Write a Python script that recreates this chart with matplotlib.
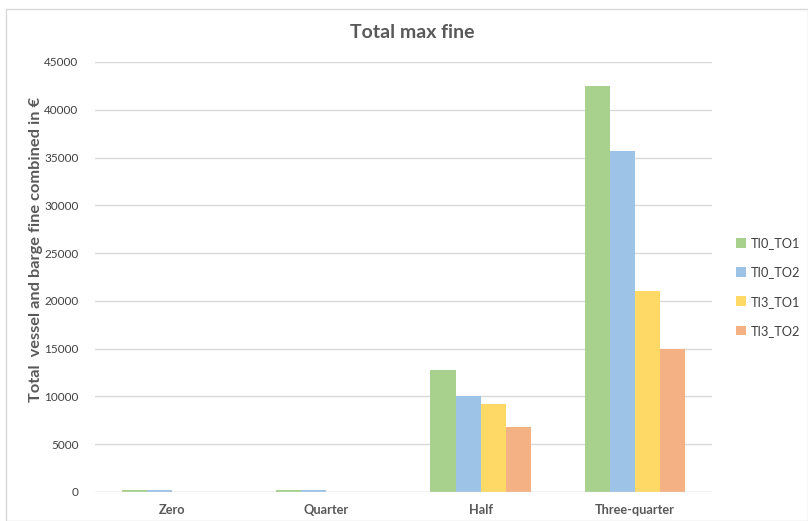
import matplotlib.pyplot as plt
import numpy as np
from matplotlib.patches import Rectangle

categories = ["Zero", "Quarter", "Half", "Three-quarter"]
series_names = ["TI0_TO1", "TI0_TO2", "TI3_TO1", "TI3_TO2"]
ti0_to1 = [200, 200, 12800, 42500]
ti0_to2 = [200, 200, 10050, 35700]
ti3_to1 = [0, 0, 9200, 21000]
ti3_to2 = [0, 0, 6850, 15000]
y_ticks = list(range(0, 45001, 5000))

colors = ["#A9D18E", "#9DC3E6", "#FFD966", "#F4B183"]
text_color = "#595959"

plt.rcParams['font.family'] = ['Lato', 'DejaVu Sans']

fig = plt.figure(figsize=(8.08, 5.21), dpi=100)
ax = fig.add_axes([95 / 808, 1 - 492 / 521, (712 - 95) / 808, (492 - 62) / 521])

x = np.arange(len(categories))
bw = 0.1625
series = [ti0_to1, ti0_to2, ti3_to1, ti3_to2]
for i, (name, vals) in enumerate(zip(series_names, series)):
    ax.bar(x + (i - 1.5) * bw, vals, width=bw, color=colors[i], label=name, zorder=3)

ax.set_xlim(-0.5, len(categories) - 0.5)
ax.set_ylim(0, 45000)
ax.set_yticks(y_ticks)
ax.set_yticklabels([str(v) for v in y_ticks], fontsize=8.5, color="#404040")
ax.set_xticks(x)
ax.set_xticklabels(categories, fontsize=9.2, fontweight="bold", color=text_color)
ax.tick_params(axis='both', length=0)
ax.tick_params(axis='y', pad=12)
ax.tick_params(axis='x', pad=9)
ax.grid(axis='y', color="#D9D9D9", linewidth=1, zorder=0)
for s in ax.spines.values():
    s.set_visible(False)
ax.axhline(0, color="#D9D9D9", linewidth=1, zorder=4)

fig.text(36 / 808, 1 - 250 / 521, "Total  vessel and barge fine combined in €",
         rotation=90, ha="center", va="center", fontsize=11.8,
         fontweight="bold", color=text_color)

fig.text(412 / 808, 1 - 33 / 521, "Total max fine", ha="center", va="center",
         fontsize=14, fontweight="bold", color=text_color)

leg = fig.legend(loc="center left", bbox_to_anchor=(736 / 808, 1 - 287 / 521),
                 frameon=False, fontsize=9.2, handlelength=0.8, handleheight=0.8,
                 labelspacing=1.35, handletextpad=0.35, borderpad=0, borderaxespad=0)
for t in leg.get_texts():
    t.set_color("#404040")

fig.patches.append(Rectangle((6 / 808, 0), 1 - 6 / 808, 1 - 9 / 521,
                             transform=fig.transFigure, fill=False,
                             edgecolor="#D9D9D9", linewidth=1))

fig.savefig("out.png", dpi=100)
